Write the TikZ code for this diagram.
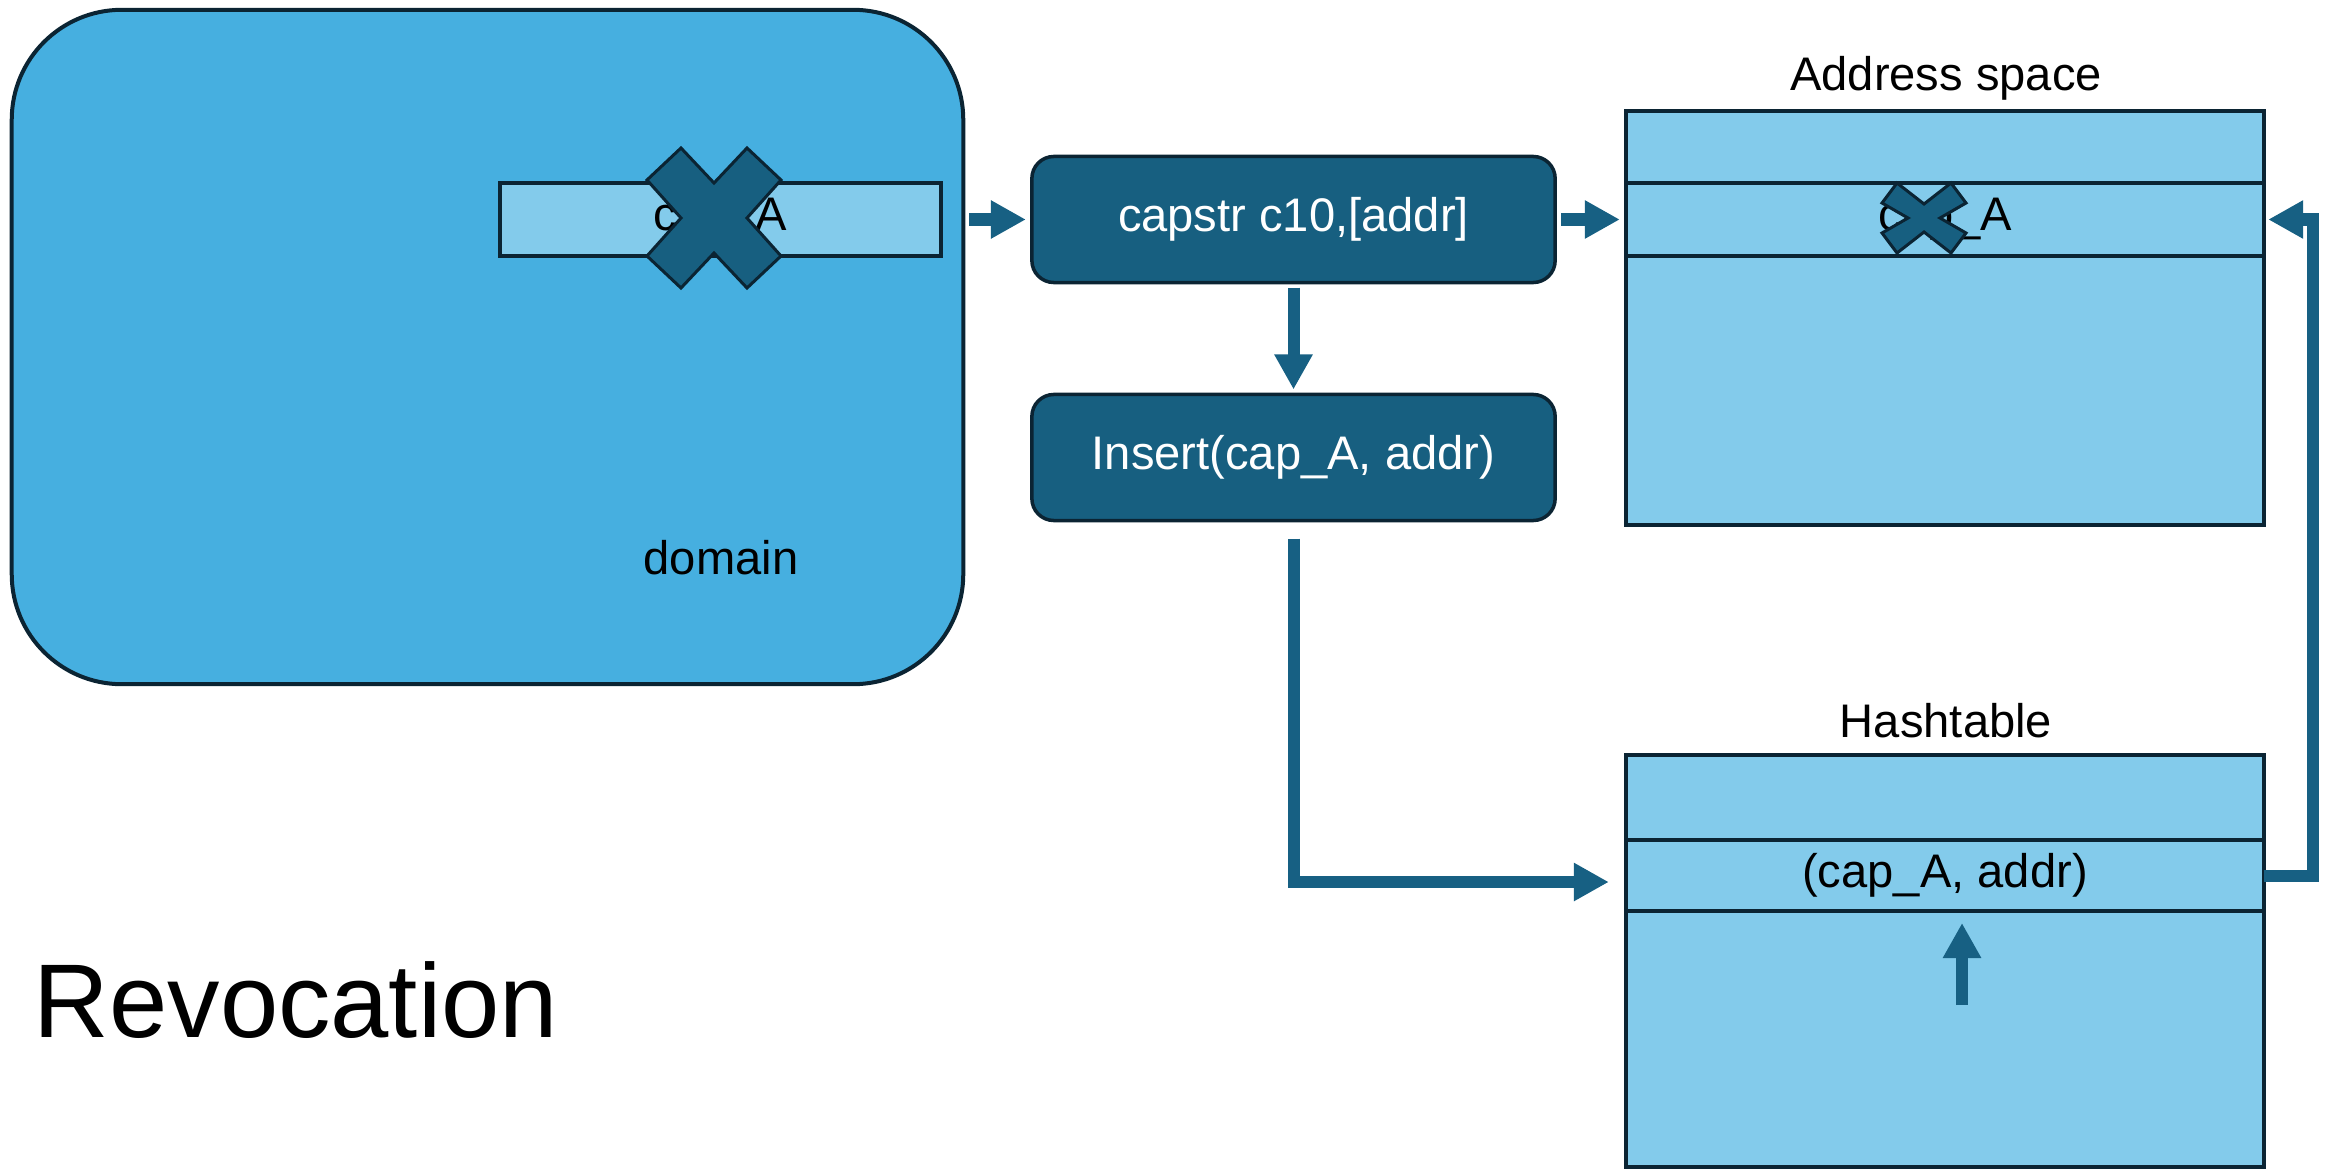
\documentclass[tikz,border=0pt]{standalone}
\usepackage{fontspec}
\setmainfont{Liberation Sans}
\usetikzlibrary{arrows.meta}
\definecolor{domainfill}{HTML}{46AFE0}
\definecolor{cellfill}{HTML}{83CBEB}
\definecolor{darkfill}{HTML}{175F80}
\definecolor{edgecol}{HTML}{0B2433}
\definecolor{flowblue}{HTML}{176083}

\begin{document}
\begin{tikzpicture}[x=0.01cm,y=-0.01cm,
  basefont/.style={font=\fontsize{13.4pt}{16pt}\selectfont},
  txt/.style={basefont, inner sep=0},
  domainbox/.style={draw=edgecol, fill=domainfill, line width=0.4mm, rounded corners=1.1cm, inner sep=0, outer sep=0},
  cell/.style={draw=edgecol, fill=cellfill, line width=0.35mm, inner sep=0, outer sep=0, basefont},
  opbox/.style={draw=edgecol, fill=darkfill, line width=0.35mm, rounded corners=0.22cm, inner sep=0, outer sep=0,
                text=white, basefont, minimum width=5.23cm, minimum height=1.26cm},
  flow/.style={draw=flowblue, line width=1.2mm, -{Triangle[length=3.5mm,width=3.6mm]}},
  cross/.style={fill=darkfill, draw=edgecol, line width=0.3mm, line join=miter}
]
\useasboundingbox (0,0) rectangle (2331,1170);

% protection domain holding the capability
\node[domainbox, minimum width=9.51cm, minimum height=6.74cm] (domain) at (487.5,347) {};
\node[cell, minimum width=4.41cm, minimum height=0.73cm] (domcap) at (720.5,219.5) {cap\_A};
\draw[cross, shift={(714,218)}]
  (-33,-70) -- (0,-35) -- (33,-70) -- (67,-38) -- (33,0) -- (67,38) -- (33,70)
  -- (0,35) -- (-33,70) -- (-67,38) -- (-33,0) -- (-67,-38) -- cycle;
\node[txt, anchor=base] (domlabel) at (721,574) {domain};

% operations
\node[opbox] (capstr) at (1293.5,219.5) {capstr c10,[addr]};
\node[opbox] (insert) at (1293.5,457.5) {Insert(cap\_A, addr)};

% address space
\node[txt, anchor=base] (addrtitle) at (1946,91) {Address space};
\node[cell, minimum width=6.38cm, minimum height=0.72cm] (addrtop) at (1945,147) {};
\node[cell, minimum width=6.38cm, minimum height=0.73cm] (addrmid) at (1945,219.5) {cap\_A};
\node[cell, minimum width=6.38cm, minimum height=2.69cm] (addrbot) at (1945,390.5) {};
\draw[cross, shift={(1924,218)}]
  (-27,-35) -- (0,-14) -- (27,-35) -- (42,-15) -- (16,0) -- (42,15) -- (27,35)
  -- (0,14) -- (-27,35) -- (-42,15) -- (-16,0) -- (-42,-15) -- cycle;

% hashtable
\node[txt, anchor=base] (hashtitle) at (1946,737) {Hashtable};
\node[cell, minimum width=6.38cm, minimum height=0.85cm] (hashtop) at (1945,797.5) {};
\node[cell, minimum width=6.38cm, minimum height=0.71cm] (hashmid) at (1945,875.5) {(cap\_A, addr)};
\node[cell, minimum width=6.38cm, minimum height=2.56cm] (hashbot) at (1945,1039) {};

% flow arrows
\draw[flow] ([xshift=0.06cm]domain.east |- capstr.west) -- ([xshift=-0.06cm]capstr.west);
\draw[flow] ([xshift=0.06cm]capstr.east) -- ([xshift=-0.06cm]addrmid.west);
\draw[flow] ([yshift=-0.05cm]capstr.south) -- ([yshift=0.05cm]insert.north);
\draw[flow] ([yshift=-0.18cm]insert.south) |- ([xshift=-0.17cm,yshift=-0.065cm]hashmid.west);
\draw[flow] (hashmid.east) -- ([xshift=0.49cm]hashmid.east) |- ([xshift=0.04cm]addrmid.east);
\coordinate (upfoot) at (1962,1005);
\coordinate (uptip) at (1962,923);
\draw[flow] (upfoot) -- (uptip);

% title
\node[anchor=base west, inner sep=0, font=\fontsize{29.8pt}{34pt}\selectfont] (title) at (33,1037) {Revocation};
\end{tikzpicture}
\end{document}
